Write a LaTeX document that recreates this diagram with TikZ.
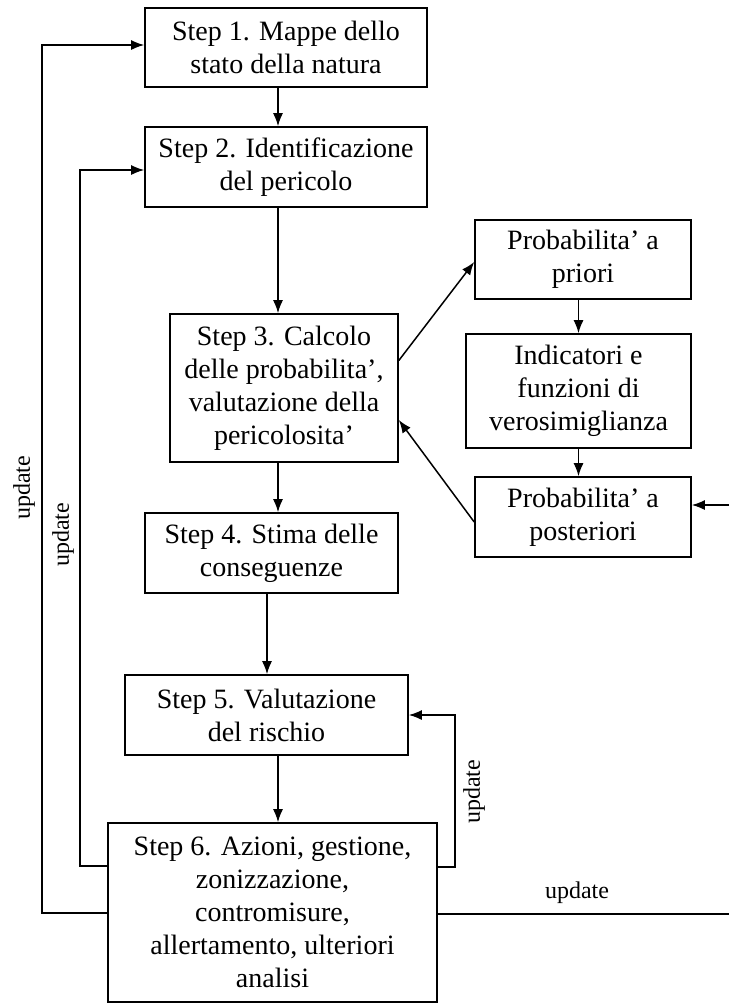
\documentclass[tikz,border=0pt]{standalone}
\usepackage{fontspec}
\setmainfont{Liberation Serif}
\usetikzlibrary{arrows.meta}
\begin{document}
\begin{tikzpicture}[x=1pt,y=-1pt,
  box/.style={draw, line width=1.6pt, inner sep=0pt, align=center,
    font=\fontsize{28}{33}\selectfont},
  arr/.style={line width=1.5pt, -{Latex[length=13pt,width=10pt]}},
  ln/.style={line width=1.5pt},
  lab/.style={font=\fontsize{24}{28}\selectfont, inner sep=0pt}]
\useasboundingbox (0,0) rectangle (729,1005);
\node[box, minimum width=282pt, minimum height=79pt] (b1) at (286,47.5) {Step 1. Mappe dello\\stato della natura};
\node[box, minimum width=282pt, minimum height=80pt] (b2) at (286,167) {Step 2. Identificazione\\del pericolo};
\node[box, minimum width=228pt, minimum height=148pt] (b3) at (284,388) {Step 3. Calcolo\\delle probabilita’,\\valutazione della\\pericolosita’};
\node[box, minimum width=253pt, minimum height=80pt] (b4) at (271.5,553) {Step 4. Stima delle\\conseguenze};
\node[box, minimum width=283pt, minimum height=80pt] (b5) at (266.5,715) {Step 5. Valutazione\\del rischio};
\node[box, minimum width=329pt, minimum height=179pt] (b6) at (272.5,912.5) {Step 6. Azioni, gestione,\\zonizzazione,\\contromisure,\\allertamento, ulteriori\\analisi};
\node[box, minimum width=216pt, minimum height=79pt] (pri) at (583,259.5) {Probabilita’ a\\priori};
\node[box, minimum width=225pt, minimum height=114pt] (ind) at (578.5,391) {Indicatori e\\funzioni di\\verosimiglianza};
\node[box, minimum width=216pt, minimum height=80pt] (post) at (583,517) {Probabilita’ a\\posteriori};
% main chain
\coordinate (c12) at ([xshift=-8pt]b1.south);
\draw[arr] (c12) -- (c12 |- b2.north);
\coordinate (c23) at ([xshift=-8pt]b2.south);
\draw[arr] (c23) -- (c23 |- b3.north);
\coordinate (c34) at ([xshift=-6pt]b3.south);
\draw[arr] (c34) -- (c34 |- b4.north);
\coordinate (c45) at ([xshift=-4.5pt]b4.south);
\draw[arr] (c45) -- (c45 |- b5.north);
\coordinate (c56) at ([xshift=11.5pt]b5.south);
\draw[arr] (c56) -- (c56 |- b6.north);
% bayesian side
\draw[arr] ([yshift=27.5pt]b3.east) -- ([yshift=-2.5pt]pri.west);
\draw[arr] (pri.south -| ind) -- (ind.north);
\draw[arr] (ind.south) -- (ind.south |- post.north);
\draw[arr] ([yshift=-5pt]post.west) -- ([yshift=-32pt]b3.east);
\coordinate (inR) at (729,505);
\draw[arr] (inR) -- (inR -| post.east);
% update loops
\coordinate (rx) at (455,715);
\draw[arr] ([yshift=45.5pt]b6.east) -| (rx) -- (b5.east);
\node[lab, rotate=90] (u1) at (474,792) {update};
\coordinate (lx) at (80,170);
\draw[arr] ([yshift=46.5pt]b6.west) -| (lx) -- (lx -| b2.west);
\node[lab, rotate=90] (u2) at (63,535) {update};
\coordinate (ox) at (42,45);
\draw[arr] ([yshift=-0.5pt]b6.west) -| (ox) -- (ox -| b1.west);
\node[lab, rotate=90] (u3) at (24,488) {update};
\coordinate (outR) at (729,914);
\draw[ln] ([yshift=-1.5pt]b6.east) -- (outR);
\node[lab] (u4) at (577,893) {update};
\end{tikzpicture}
\end{document}
